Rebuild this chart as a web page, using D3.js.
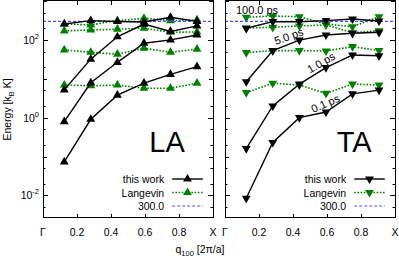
<!DOCTYPE html>
<meta charset="utf-8">
<html>
<head>
<script src="https://d3js.org/d3.v7.min.js"></script>
<style>
  body { margin: 0; background: #fff; }
  svg { display: block; }
  text { font-family: "Liberation Sans", Arial, sans-serif; fill: #000; }
</style>
</head>
<body>
<div id="chart"></div>
<script>
// q points along [100]
var qValues = [0.125, 0.281, 0.4375, 0.594, 0.75, 0.906];
var timeLabels = ["0.1 ps", "1.0 ps", "5.0 ps", "100.0 ps"];
var xTickValues = [0, 0.2, 0.4, 0.6, 0.8, 1.0];
var xTickLabels = ["\u0393", "0.2", "0.4", "0.6", "0.8", "X"];
var yTickExps = [-2, 0, 2];
var refTemp = 300.0;

// LA: this work (one row per time) and Langevin
var laThisWork = [
  [0.073, 0.91, 3.8, 7.7, 13, 20.5],
  [0.79, 7.9, 26.5, 82, 100, 134],
  [5.2, 32, 120, 255, 165, 230],
  [256, 312, 297, 288, 381, 300]
];
var laLangevin = [
  [6.9, 6.6, 6.9, 5.7, 5.7, 7.7],
  [55, 48, 43, 61, 48, 58],
  [170, 180, 188, 200, 157, 160],
  [256, 242, 312, 359, 312, 325]
];
// TA
var taThisWork = [
  [0.0085, 0.23, 1.0, 1.4, 4.1, 5.1],
  [0.16, 2.0, 7.3, 19.3, 41, 39],
  [8.4, 53, 99, 134, 148, 157],
  [199, 294, 294, 312, 345, 306]
];
var taLangevin = [
  [4.4, 7.7, 6.9, 4.2, 7.3, 6.9],
  [47, 53, 53, 52, 67, 53],
  [202, 211, 228, 242, 153, 172],
  [381, 411, 395, 256, 218, 395]
];

var W = 399, H = 258;
var yTop = 1, yBottom = 218;
var green = "#008000", blue = "#4d4dff";

var svg = d3.select("#chart").append("svg")
    .attr("width", W).attr("height", H);

var y = d3.scaleLog().domain([1e3, Math.pow(10, -2.58)]).range([yTop, yBottom]);

var triUp = d3.symbol().type(d3.symbolTriangle).size(34)();

function panel(x0, x1, thisWork, langevin, name, nameAt, down, showY) {
  var x = d3.scaleLinear().domain([0, 1]).range([x0, x1]);
  var g = svg.append("g");
  var clipId = "clip" + name;
  svg.append("clipPath").attr("id", clipId)
    .append("rect").attr("x", x0).attr("y", yTop).attr("width", x1 - x0).attr("height", yBottom - yTop);

  var plot = g.append("g").attr("clip-path", "url(#" + clipId + ")");
  var line = d3.line().x(function(d, i) { return x(qValues[i]); }).y(function(d) { return y(d); });
  var rot = down ? " rotate(180)" : "";

  // Langevin (green dotted)
  langevin.forEach(function(row) {
    plot.append("path").attr("d", line(row)).attr("fill", "none")
      .attr("stroke", green).attr("stroke-width", 1.6).attr("stroke-dasharray", "1.6,1.6");
    plot.selectAll(null).data(row).enter().append("path")
      .attr("d", triUp).attr("fill", green)
      .attr("transform", function(d, i) { return "translate(" + x(qValues[i]) + "," + y(d) + ")" + rot; });
  });

  // 300 K line
  plot.append("line").attr("x1", x0).attr("x2", x1).attr("y1", y(refTemp)).attr("y2", y(refTemp))
    .attr("stroke", blue).attr("stroke-width", 1.2).attr("stroke-dasharray", "3,2");

  // this work (black)
  thisWork.forEach(function(row) {
    plot.append("path").attr("d", line(row)).attr("fill", "none")
      .attr("stroke", "#000").attr("stroke-width", 1.4);
    plot.selectAll(null).data(row).enter().append("path")
      .attr("d", triUp).attr("fill", "#000")
      .attr("transform", function(d, i) { return "translate(" + x(qValues[i]) + "," + y(d) + ")" + rot; });
  });

  // frame
  g.append("rect").attr("x", x0 + 0.5).attr("y", yTop - 0.5).attr("width", x1 - x0).attr("height", yBottom - yTop)
    .attr("fill", "none").attr("stroke", "#000").attr("stroke-width", 1);

  // x ticks (inward, top and bottom)
  xTickValues.forEach(function(v, i) {
    var xx = Math.round(x(v)) + 0.5;
    g.append("line").attr("x1", xx).attr("x2", xx).attr("y1", yBottom).attr("y2", yBottom - 4).attr("stroke", "#000");
    g.append("line").attr("x1", xx).attr("x2", xx).attr("y1", yTop).attr("y2", yTop + 4).attr("stroke", "#000");
    g.append("text").attr("x", x(v)).attr("y", 236).attr("text-anchor", "middle")
      .attr("font-size", 10.5).text(xTickLabels[i]);
  });

  // y ticks: 1,2,5 x 10^k
  for (var k = -3; k <= 3; k++) {
    [1, 2, 5].forEach(function(m) {
      var v = m * Math.pow(10, k);
      var yy = y(v);
      if (yy < yTop - 0.1 || yy > yBottom + 0.1) return;
      var len = m === 1 ? (k % 2 === 0 ? 5 : 4) : 2.5;
      yy = Math.round(yy) + 0.5;
      g.append("line").attr("x1", x0).attr("x2", x0 + len).attr("y1", yy).attr("y2", yy).attr("stroke", "#000");
      g.append("line").attr("x1", x1).attr("x2", x1 - len).attr("y1", yy).attr("y2", yy).attr("stroke", "#000");
    });
  }
  if (showY) {
    yTickExps.forEach(function(e) {
      var t = g.append("text").attr("x", x0 - 4).attr("y", y(Math.pow(10, e)) + 4)
        .attr("text-anchor", "end").attr("font-size", 10.5);
      t.append("tspan").text("10");
      t.append("tspan").attr("dy", -5).attr("font-size", 7.5).text(e);
    });
  }

  // panel name
  g.append("text").attr("x", x(nameAt)).attr("y", 152).attr("text-anchor", "middle")
    .attr("font-size", 29).text(name);

  // legend
  var lx0 = x(0.76), lx1 = x(0.94);
  var entries = [
    {label: "this work", color: "#000", dash: null, w: 1.4, mark: true},
    {label: "Langevin", color: green, dash: "1.6,1.6", w: 1.6, mark: true},
    {label: "300.0", color: blue, dash: "3,2", w: 1.2, mark: false}
  ];
  entries.forEach(function(e, i) {
    var ly = 179 + i * 13.5;
    g.append("text").attr("x", lx0 - 8).attr("y", ly + 4).attr("text-anchor", "end")
      .attr("font-size", 10.5).text(e.label);
    g.append("line").attr("x1", lx0).attr("x2", lx1).attr("y1", ly).attr("y2", ly)
      .attr("stroke", e.color).attr("stroke-width", e.w).attr("stroke-dasharray", e.dash);
    if (e.mark) {
      g.append("path").attr("d", triUp).attr("fill", e.color)
        .attr("transform", "translate(" + ((lx0 + lx1) / 2) + "," + ly + ")" + rot);
    }
  });
  return x;
}

var xl = panel(43, 213, laThisWork, laLangevin, "LA", 0.73, false, true);
var xr = panel(225, 395, taThisWork, taLangevin, "TA", 0.76, true, false);

// time annotations in TA panel
var notes = [
  {t: timeLabels[3], x: 257, y: 14, a: 0},
  {t: timeLabels[2], x: 290, y: 40, a: -20},
  {t: timeLabels[1], x: 323, y: 66, a: -30},
  {t: timeLabels[0], x: 327, y: 107, a: -24}
];
notes.forEach(function(n) {
  svg.append("text").attr("text-anchor", "middle").attr("font-size", 11)
    .attr("transform", "translate(" + n.x + "," + n.y + ") rotate(" + n.a + ")")
    .text(n.t);
});

// axis titles
var yl = svg.append("text").attr("text-anchor", "middle").attr("font-size", 10.5)
  .attr("transform", "translate(11," + ((yTop + yBottom) / 2) + ") rotate(-90)");
yl.append("tspan").text("Energy [k");
yl.append("tspan").attr("dy", 2.5).attr("font-size", 7.5).text("B");
yl.append("tspan").attr("dy", -2.5).text(" K]");

var xt = svg.append("text").attr("x", 200).attr("y", 253).attr("text-anchor", "middle").attr("font-size", 10.5);
xt.append("tspan").text("q");
xt.append("tspan").attr("dy", 2.5).attr("font-size", 7.5).text("100");
xt.append("tspan").attr("dy", -2.5).text(" [2\u03c0/a]");
</script>
</body>
</html>
